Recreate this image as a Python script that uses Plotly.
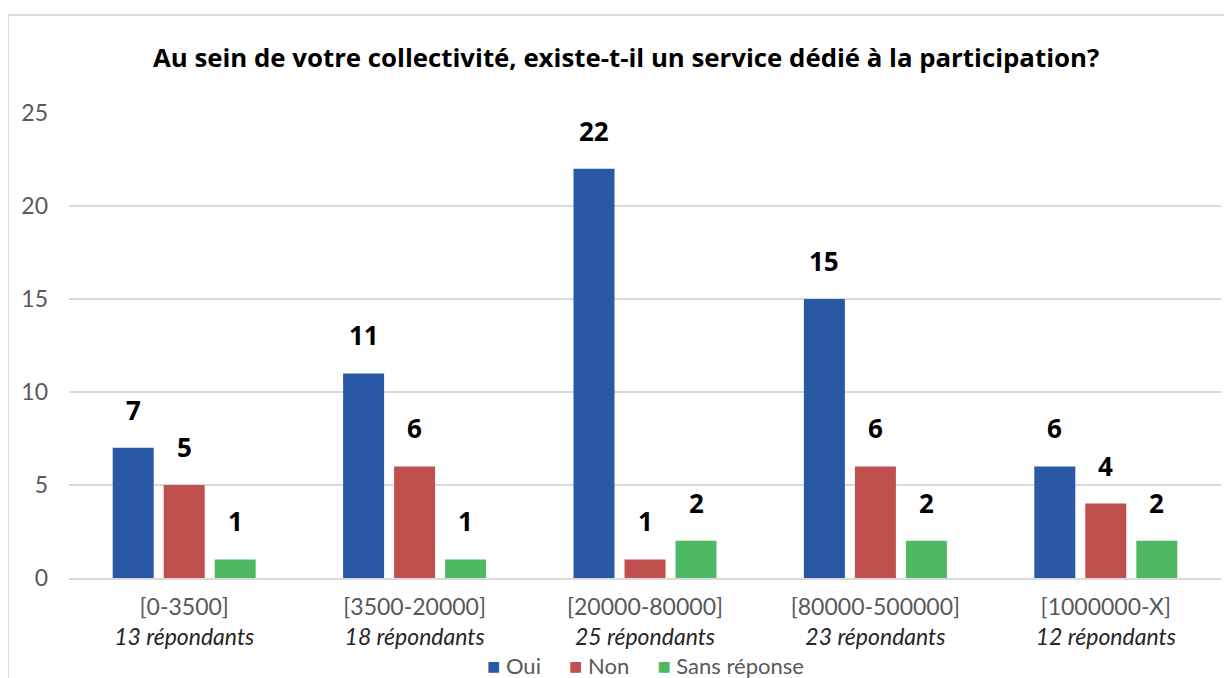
import plotly.graph_objects as go

categories = ['[0-3500]', '[3500-20000]', '[20000-80000]', '[80000-500000]', '[1000000-X]']
respondents = ['13 répondants', '18 répondants', '25 répondants', '23 répondants', '12 répondants']
oui = [7, 11, 22, 15, 6]
non = [5, 6, 1, 6, 4]
sans_reponse = [1, 1, 2, 2, 2]

series = [('Oui', oui, '#2958A5'), ('Non', non, '#C0504D'), ('Sans réponse', sans_reponse, '#4FB863')]

ticktext = [f"{c}<br><i><span style='color:#262626'>{r}</span></i>" for c, r in zip(categories, respondents)]

fig = go.Figure()
for name, vals, color in series:
    fig.add_trace(go.Bar(x=categories, y=vals, name=name, marker_color=color,
                         marker_line_width=0, showlegend=False))

# value labels above the bars
for i, (name, vals, color) in enumerate(series):
    for c, v in zip(categories, vals):
        fig.add_annotation(x=c, y=v, text=f'<b>{v}</b>', showarrow=False,
                           xshift=(i - 1) * 51, yshift=38, yanchor='middle',
                           font=dict(size=26, color='#000000', family='Open Sans'))

# legend drawn as one line of text (tight square/label spacing like the original)
sp = '\u00a0' * 5
legend_txt = sp.join(f"<span style='color:{col}'>■</span>\u00a0{name}" for name, _, col in series)
fig.add_annotation(xref='paper', yref='paper', x=0.5, y=-0.189, xanchor='center', yanchor='middle',
                   text=legend_txt, showarrow=False, font=dict(size=22, color='#595959', family='Lato'))

# chart frame
fig.add_shape(type='rect', xref='paper', yref='paper', x0=-0.053, x1=1.3, y0=-0.5, y1=1.2108,
              line=dict(color='#d9d9d9', width=2), fillcolor='rgba(0,0,0,0)', layer='below')

fig.update_layout(
    width=1224, height=670,
    margin=dict(l=61, r=11, t=105, b=100, autoexpand=False),
    paper_bgcolor='white', plot_bgcolor='white',
    barmode='group', bargap=0.336, bargroupgap=0.196,
    title=dict(text='<b>Au sein de votre collectivité, existe-t-il un service dédié à la participation?</b>',
               x=0.505, xref='container', xanchor='center', y=0.9254, yref='container', yanchor='middle',
               font=dict(size=25.8, color='#000000', family='Open Sans')),
    font=dict(family='Lato, sans-serif', color='#595959'),
    showlegend=False,
)
fig.update_xaxes(showline=True, linecolor='#d9d9d9', linewidth=2, ticks='', ticklabelstandoff=7,
                 tickvals=categories, ticktext=ticktext, tickfont=dict(size=23, color='#595959'))
fig.update_yaxes(range=[0, 25], dtick=5, showgrid=True, gridcolor='#d9d9d9', gridwidth=1.5,
                 zeroline=False, ticks='', ticklabelstandoff=20,
                 tickfont=dict(size=23, color='#595959'))

fig.write_html('out.html')
